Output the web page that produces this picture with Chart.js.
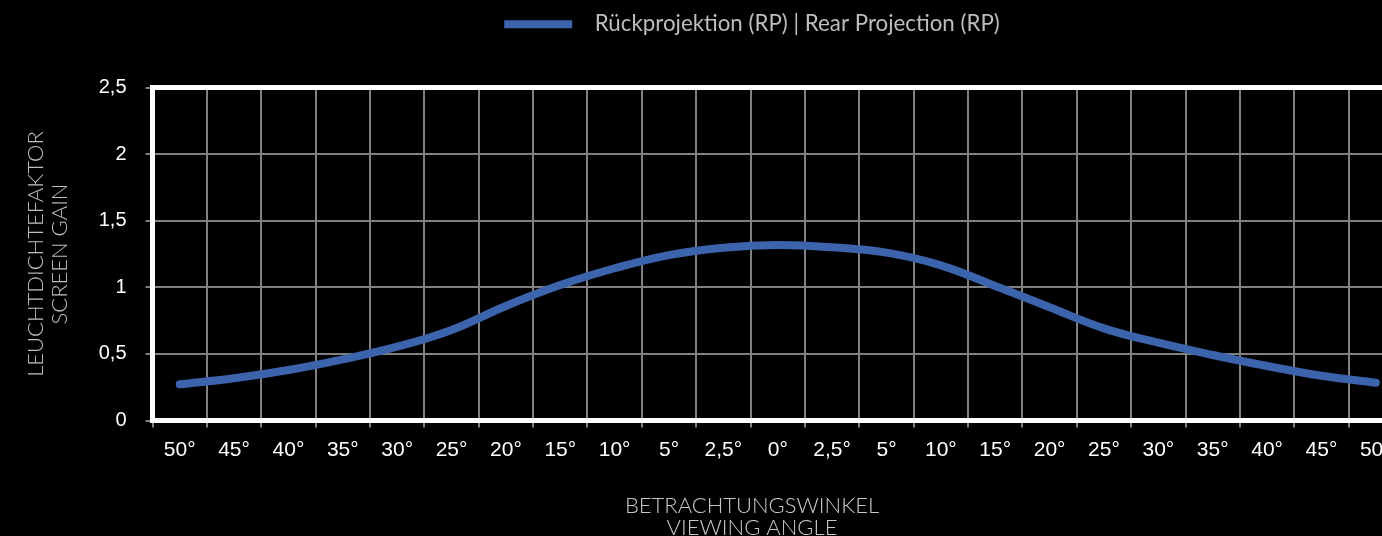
<!DOCTYPE html>
<html>
<head>
<meta charset="utf-8">
<script src="https://cdn.jsdelivr.net/npm/chart.js@4.4.1/dist/chart.umd.min.js"></script>
<style>
html, body { margin: 0; padding: 0; background: #000; overflow: hidden; }
#contenedor { width: 1504px; height: 536px; }
</style>
</head>
<body>
<div id="contenedor"><canvas id="myChart" width="1504" height="536"></canvas></div>
<script>
// DATOS
const angulos = ['50°','45°','40°','35°','30°','25°','20°','15°','10°','5°','2,5°','0°','2,5°','5°','10°','15°','20°','25°','30°','35°','40°','45°','50°']
const ganancia = [0.272, 0.317, 0.379, 0.459, 0.554, 0.68, 0.86, 1.017, 1.143, 1.242, 1.297, 1.317, 1.30, 1.26, 1.165, 1.01, 0.85, 0.692, 0.584, 0.492, 0.409, 0.336, 0.284]
const ticksY = ['0', '0,5', '1', '1,5', '2', '2,5']
const leyenda = 'Rückprojektion (RP) | Rear Projection (RP)'
const tituloX = ['BETRACHTUNGSWINKEL', 'VIEWING ANGLE']
const tituloY = ['LEUCHTDICHTEFAKTOR', 'SCREEN GAIN']

const azul = '#3c64ad'
const gris = '#808080'

// marco blanco del area del grafico
const marco = {
  id: 'marco',
  beforeDatasetsDraw: (chart) => {
    const { ctx, chartArea: a } = chart
    ctx.save()
    ctx.strokeStyle = '#ffffff'
    ctx.lineWidth = 5
    ctx.strokeRect(a.left, a.top, a.right - a.left, a.bottom - a.top)
    ctx.restore()
  }
}

// alto fijo para la leyenda
const espacioLeyenda = {
  id: 'espacioLeyenda',
  beforeLayout: (chart) => {
    const lg = chart.legend
    if (lg && !lg._fijo) {
      const fit = lg.fit
      lg.fit = function () { fit.call(this); this.height = 87.5 }
      lg._fijo = true
    }
  }
}

const chart = document.getElementById('myChart')

new Chart(chart, {
  type: 'line',
  data: {
    labels: angulos,
    datasets: [{
      label: leyenda,
      data: ganancia,
      borderColor: azul,
      backgroundColor: azul,
      borderWidth: 8,
      borderCapStyle: 'round',
      pointRadius: 0,
      tension: 0.4,
      fill: false
    }]
  },
  options: {
    responsive: false,
    animation: false,
    layout: { padding: 0 },
    scales: {
      x: {
        offset: true,
        grid: { offset: true, color: gris, lineWidth: 2, tickLength: 7 },
        border: { display: false },
        ticks: {
          color: '#ffffff',
          autoSkip: false,
          maxRotation: 0,
          padding: 10.5,
          font: { family: 'Liberation Sans', size: 21 }
        },
        afterFit: (s) => { s.height = 64 }
      },
      y: {
        min: 0,
        max: 2.5,
        grid: { color: gris, lineWidth: 2, tickLength: 7 },
        border: { display: false },
        ticks: {
          stepSize: 0.5,
          color: '#ffffff',
          padding: 19,
          font: { family: 'Liberation Sans', size: 20 },
          callback: (v, i) => ticksY[i]
        },
        title: {
          display: true,
          text: tituloY,
          color: '#bfbfbf',
          padding: { top: 23.25, bottom: 0 },
          font: { family: 'Lato', weight: 300, size: 22, lineHeight: 1.114 }
        },
        afterFit: (s) => { s.width = 152.5 }
      },
      y2: {
        position: 'right',
        display: true,
        grid: { display: false },
        border: { display: false },
        ticks: { display: false },
        afterFit: (s) => { s.width = 101 }
      }
    },
    plugins: {
      legend: {
        display: true,
        position: 'top',
        labels: {
          color: '#bdbdbd',
          boxWidth: 68,
          boxHeight: 8,
          padding: 13,
          font: { family: 'Lato', size: 22.3 },
          generateLabels: (c) => Chart.defaults.plugins.legend.labels.generateLabels(c).map(l => ({ ...l, text: '  ' + l.text, lineWidth: 0 }))
        }
      },
      title: {
        display: true,
        position: 'bottom',
        text: tituloX,
        color: '#c8c8c8',
        padding: { top: 10, bottom: -2.5 },
        font: { family: 'Lato', weight: 300, size: 22, lineHeight: 1 }
      },
      tooltip: { enabled: false }
    }
  },
  plugins: [marco, espacioLeyenda]
})
</script>
</body>
</html>
